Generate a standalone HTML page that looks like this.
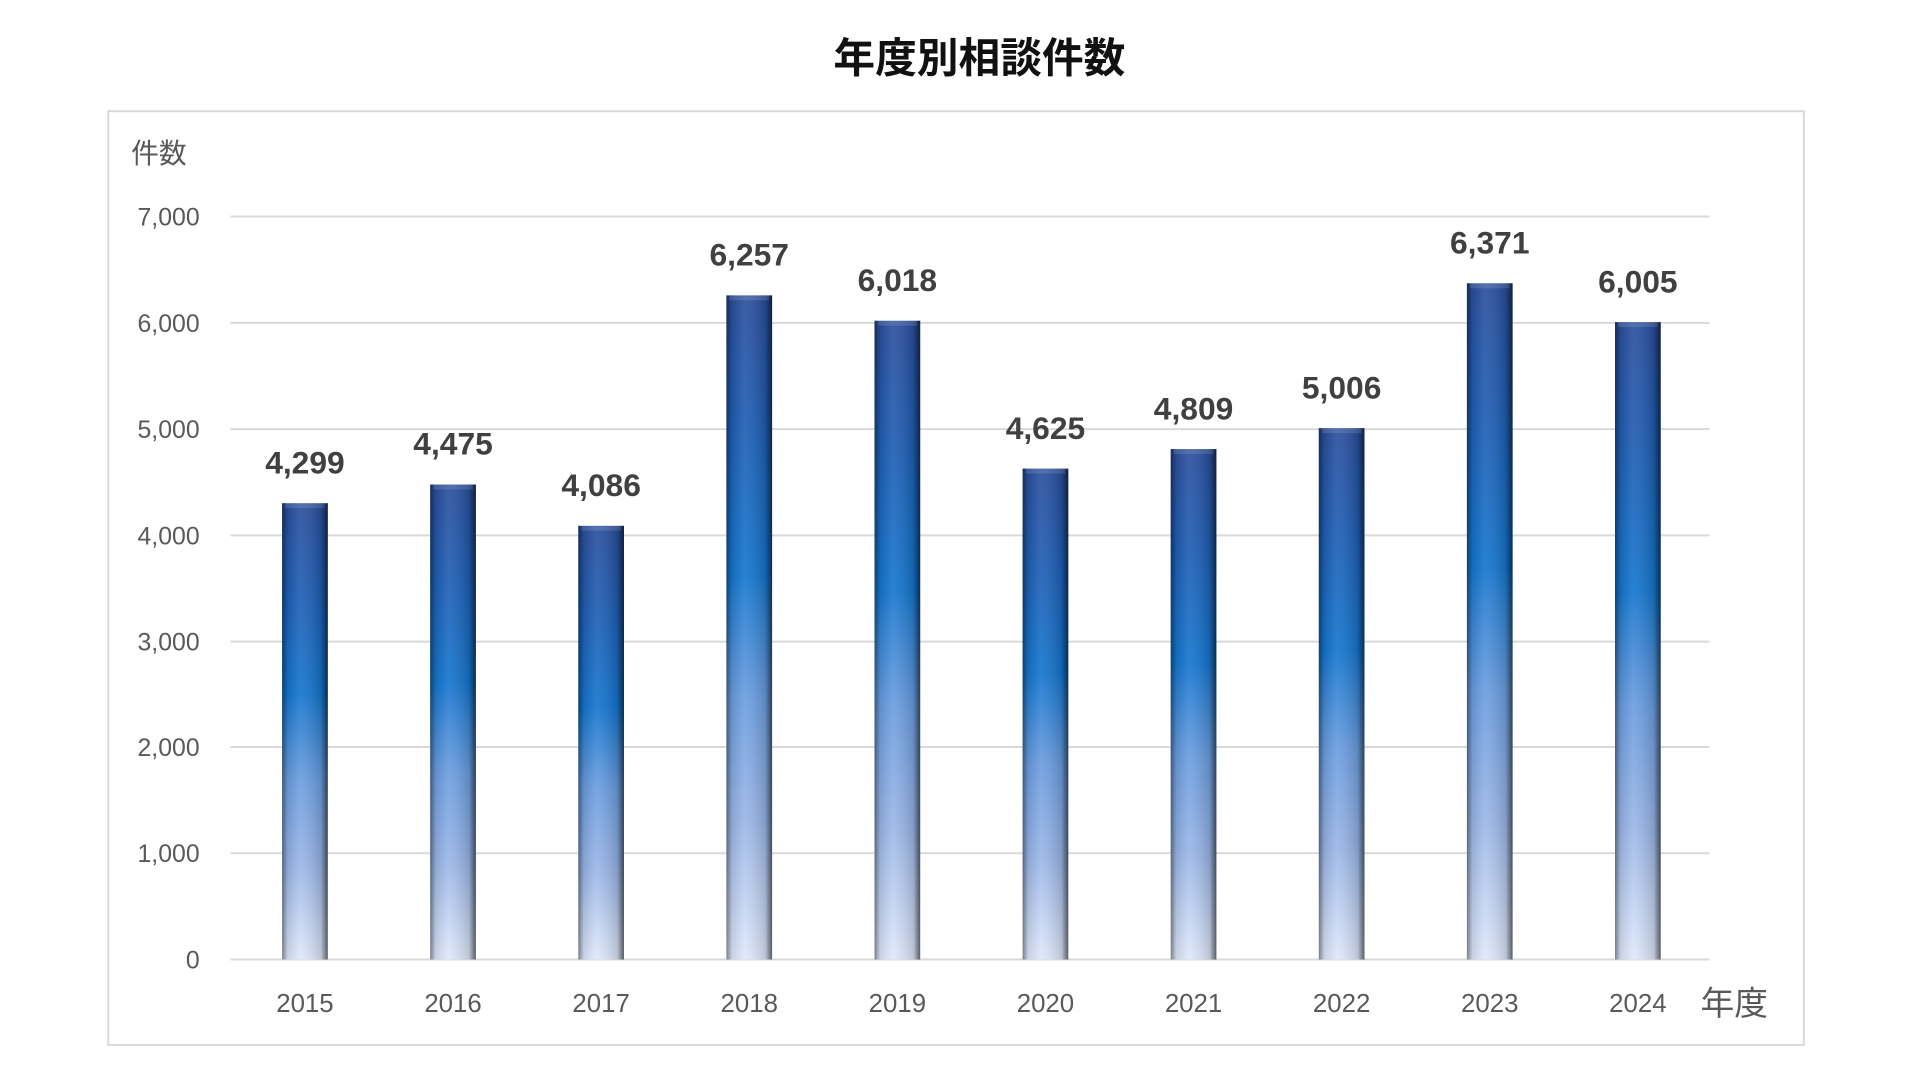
<!DOCTYPE html>
<html><head><meta charset="utf-8"><style>
html,body{margin:0;padding:0;background:#fff;width:1920px;height:1080px;overflow:hidden;font-family:"Liberation Sans","Noto Sans CJK JP",sans-serif}
.t{position:absolute;white-space:nowrap}
#w{position:absolute;left:0;top:0;width:1920px;height:1080px;transform:scale(0.9933);transform-origin:0 0}
</style></head><body>
<div id="w">
<div class="t" style="left:0;width:1972px;top:25px;text-align:center;font-size:42px;font-weight:bold;color:#111">年度別相談件数</div>
<div style="position:absolute;left:108px;top:111px;width:1705px;height:938px;border:2px solid #d9d9d9"></div>
<svg width="1920" height="1080" style="position:absolute;left:0;top:0">
<defs>
<linearGradient id="v" x1="0" y1="0" x2="0" y2="1">
<stop offset="0" stop-color="#2b4f9e"/>
<stop offset="0.2" stop-color="#1f5fb5"/>
<stop offset="0.42" stop-color="#1576cf"/>
<stop offset="0.6" stop-color="#6a9de0"/>
<stop offset="0.8" stop-color="#9db8e8"/>
<stop offset="1" stop-color="#dfe9fb"/>
</linearGradient>
<linearGradient id="h" x1="0" y1="0" x2="1" y2="0">
<stop offset="0" stop-color="#000" stop-opacity="0.45"/>
<stop offset="0.12" stop-color="#000" stop-opacity="0.1"/>
<stop offset="0.4" stop-color="#fff" stop-opacity="0.08"/>
<stop offset="0.85" stop-color="#000" stop-opacity="0.15"/>
<stop offset="1" stop-color="#000" stop-opacity="0.6"/>
</linearGradient>
</defs>
<g stroke="#d9d9d9" stroke-width="2">
<line x1="232" x2="1721" y1="218" y2="218"/><line x1="232" x2="1721" y1="325" y2="325"/>
<line x1="232" x2="1721" y1="432" y2="432"/><line x1="232" x2="1721" y1="539" y2="539"/>
<line x1="232" x2="1721" y1="646" y2="646"/><line x1="232" x2="1721" y1="752" y2="752"/>
<line x1="232" x2="1721" y1="859" y2="859"/><line x1="232" x2="1721" y1="966" y2="966"/>
</g>
<g font-size="25" fill="#595959" text-anchor="end" font-family="Liberation Sans, sans-serif">
<text x="201" y="227">7,000</text><text x="201" y="334">6,000</text><text x="201" y="441">5,000</text>
<text x="201" y="548">4,000</text><text x="201" y="655">3,000</text><text x="201" y="761">2,000</text>
<text x="201" y="868">1,000</text><text x="201" y="975">0</text>
</g>
<text x="132" y="164" font-size="28" fill="#595959" font-family="Noto Sans CJK JP, sans-serif">件数</text>
<text x="1712" y="1022" font-size="34" fill="#595959" font-family="Noto Sans CJK JP, sans-serif">年度</text>
<g id="bars"></g>
</svg>
</div>
<script>
var vals=[4299,4475,4086,6257,6018,4625,4809,5006,6371,6005];
var g=document.getElementById('bars'),s='';
for(var i=0;i<vals.length;i++){
 var cx=307+i*149.1,h=vals[i]*0.10686,y=966-h,x=cx-23;
 s+='<rect x="'+x+'" y="'+y+'" width="46" height="'+h+'" fill="url(#v)"/>';
 s+='<rect x="'+x+'" y="'+y+'" width="46" height="'+h+'" fill="url(#h)"/>';
 s+='<rect x="'+(x+3)+'" y="'+y+'" width="40" height="5" fill="#fff" opacity="0.12"/>';
 s+='<text x="'+cx+'" y="'+(y-30)+'" text-anchor="middle" font-size="32" font-weight="bold" fill="#404040" font-family="Liberation Sans, sans-serif">'+vals[i].toLocaleString('en-US')+'</text>';
 s+='<text x="'+cx+'" y="1019" text-anchor="middle" font-size="26" fill="#595959" font-family="Liberation Sans, sans-serif">'+(2015+i)+'</text>';
}
g.innerHTML=s;
</script>
</body></html>
